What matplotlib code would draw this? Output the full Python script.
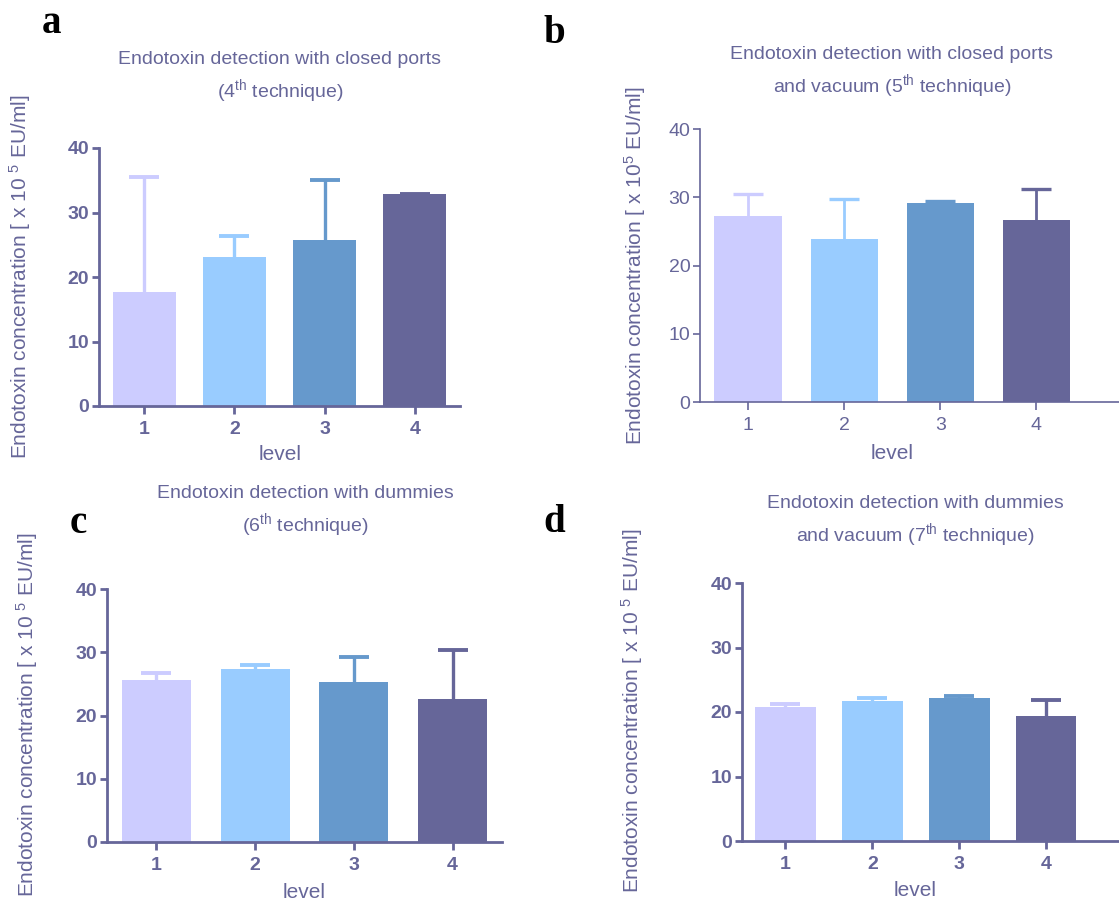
import matplotlib
matplotlib.use("Agg")
import matplotlib.pyplot as plt

W, H = 1119, 901

plt.rcParams['font.family'] = ['Liberation Sans', 'DejaVu Sans']
plt.rcParams['mathtext.fontset'] = 'custom'
plt.rcParams['mathtext.rm'] = 'Liberation Sans'
plt.rcParams['mathtext.it'] = 'Liberation Sans:italic'
plt.rcParams['mathtext.bf'] = 'Liberation Sans:bold'

levels = [1, 2, 3, 4]
bar_colors = ['#ccccff', '#99ccff', '#6699cc', '#666699']
ink = '#666699'

# mean and upper end of error bar for each panel
mean_a = [17.7, 23.1, 25.8, 32.8]
top_a = [35.5, 26.4, 35.0, 32.9]
mean_b = [27.2, 23.9, 29.2, 26.6]
top_b = [30.5, 29.7, 29.5, 31.2]
mean_c = [25.6, 27.3, 25.3, 22.6]
top_c = [26.7, 28.0, 29.2, 30.3]
mean_d = [20.7, 21.7, 22.2, 19.4]
top_d = [21.2, 22.2, 22.5, 21.8]

titles = [
    "Endotoxin detection with closed ports\n(4$^{\\rm th}$ technique)",
    "Endotoxin detection with closed ports\nand vacuum (5$^{\\rm th}$ technique)",
    "Endotoxin detection with dummies\n(6$^{\\rm th}$ technique)",
    "Endotoxin detection with dummies\nand vacuum (7$^{\\rm th}$ technique)",
]
ylab_spaced = "Endotoxin concentration [ x 10 $^{5}$ EU/ml]"
ylab_tight = "Endotoxin concentration [ x 10$^{5}$ EU/ml]"

fig = plt.figure(figsize=(W / 100, H / 100), dpi=100)


def px(x, y):
    return x / W, 1 - y / H


# panel layout in pixels: left, y of 0, y of 40, right, xmax
panels = [
    dict(mean=mean_a, top=top_a, l=99, y0=406, y40=148, r=460, xmax=4.5, bold=True,
         title=titles[0], tx=280, ty=78, ylab=ylab_spaced, yx=20, yy=277, lx=280, ly=455,
         letter='a', ltx=42, lty=33),
    dict(mean=mean_b, top=top_b, l=700, y0=402, y40=129, r=1119, xmax=4.86, bold=False,
         title=titles[1], tx=892, ty=73, ylab=ylab_tight, yx=635, yy=266, lx=892, ly=453,
         letter='b', ltx=543, lty=43),
    dict(mean=mean_c, top=top_c, l=107, y0=842, y40=589, r=502, xmax=4.5, bold=True,
         title=titles[2], tx=305, ty=512, ylab=ylab_spaced, yx=27, yy=715, lx=304, ly=892,
         letter='c', ltx=70, lty=533),
    dict(mean=mean_d, top=top_d, l=742, y0=841, y40=583, r=1119, xmax=4.84, bold=True,
         title=titles[3], tx=915, ty=522, ylab=ylab_spaced, yx=632, yy=711, lx=915, ly=891,
         letter='d', ltx=543, lty=532),
]

for p in panels:
    x0, yb = px(p['l'], p['y0'])
    x1, yt = px(p['r'], p['y40'])
    ax = fig.add_axes([x0, yb, x1 - x0, yt - yb])
    lw = 2.0 if p['bold'] else 1.2
    weight = 'bold' if p['bold'] else 'normal'

    up = [t - m for t, m in zip(p['top'], p['mean'])]
    for i in range(4):
        eb = ax.errorbar(levels[i], p['mean'][i], yerr=[[0], [up[i]]], fmt='none',
                         ecolor=bar_colors[i], elinewidth=2.4 if p['bold'] else 2.0,
                         capsize=11, capthick=2.8 if p['bold'] else 2.4, zorder=1)
        # keep only the upper cap
        eb[1][0].set_visible(False)
    ax.bar(levels, p['mean'], width=0.7, color=bar_colors, zorder=2)

    ax.set_xlim(0.5, p['xmax'])
    ax.set_ylim(0, 40)
    ax.set_yticks([0, 10, 20, 30, 40])
    ax.set_xticks(levels)
    for s in ['top', 'right']:
        ax.spines[s].set_visible(False)
    for s in ['left', 'bottom']:
        ax.spines[s].set_color(ink)
        ax.spines[s].set_linewidth(lw)
    ax.tick_params(colors=ink, width=lw, length=5, labelsize=14, direction='out')
    ax.tick_params(axis='x', length=6, pad=5)
    ax.tick_params(axis='y', pad=2)
    for lab in ax.get_xticklabels() + ax.get_yticklabels():
        lab.set_fontweight(weight)
    ax.patch.set_alpha(0)

    tx, ty = px(p['tx'], p['ty'])
    fig.text(tx, ty, p['title'], ha='center', va='center', color=ink, fontsize=14,
             linespacing=1.45)
    yx, yy = px(p['yx'], p['yy'])
    fig.text(yx, yy, p['ylab'], ha='center', va='center', rotation=90, color=ink,
             fontsize=15)
    lx, ly = px(p['lx'], p['ly'])
    fig.text(lx, ly, 'level', ha='center', va='center', color=ink, fontsize=15)
    ltx, lty = px(p['ltx'], p['lty'])
    fig.text(ltx, lty, p['letter'], ha='left', va='baseline', color='black',
             fontsize=28, fontweight='bold', family='Liberation Serif')

fig.savefig("out.png", dpi=100)
